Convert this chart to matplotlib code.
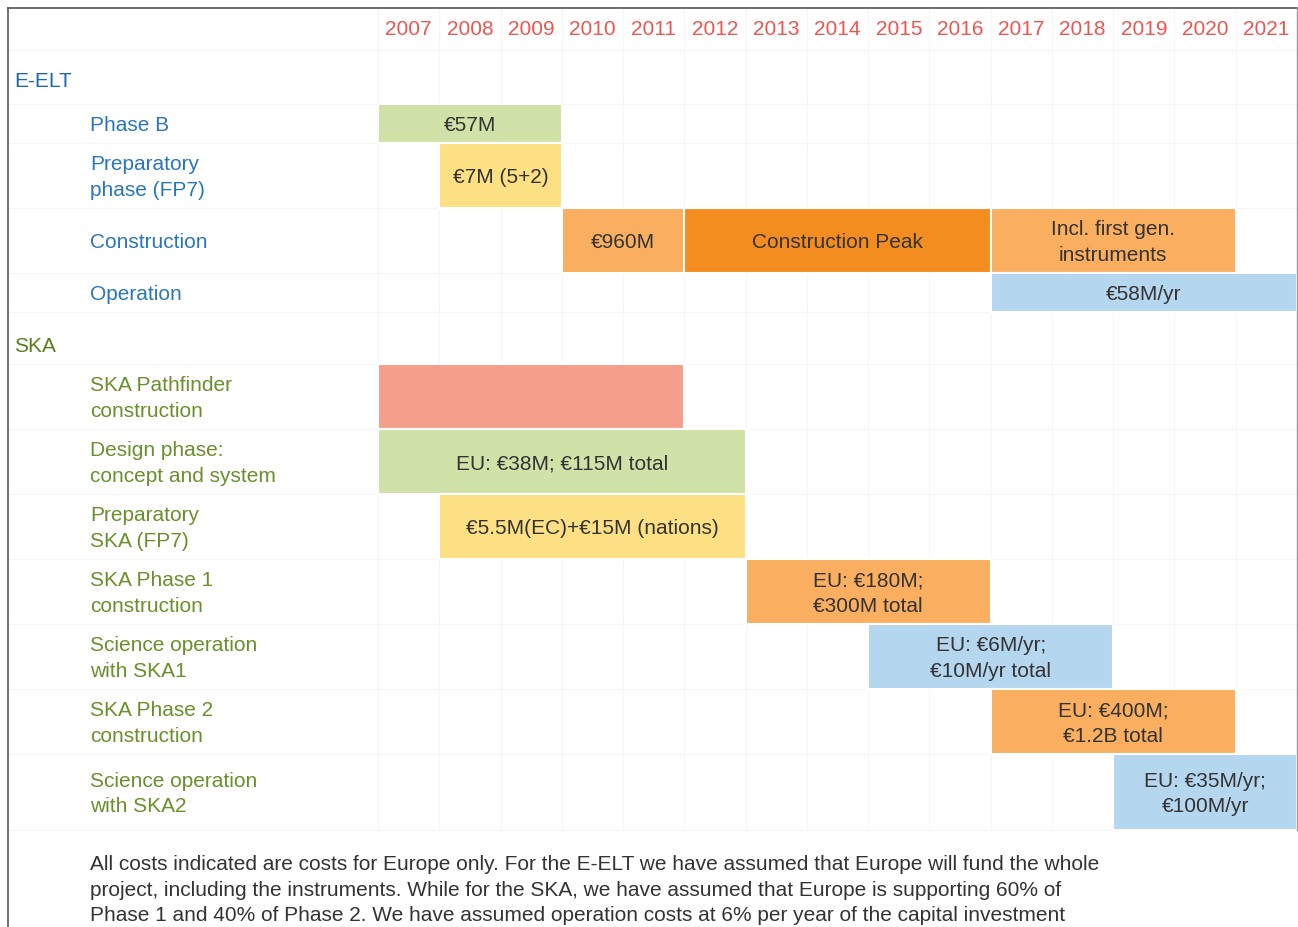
import matplotlib
matplotlib.use('Agg')
import matplotlib.pyplot as plt
from matplotlib.transforms import blended_transform_factory

# ---- data ----
years = list(range(2007, 2022))
group_names = ['E-ELT', 'SKA']
task_labels = ['Phase B', 'Preparatory\nphase (FP7)', 'Construction', 'Operation',
               'SKA Pathfinder\nconstruction', 'Design phase:\nconcept and system',
               'Preparatory\nSKA (FP7)', 'SKA Phase 1\nconstruction',
               'Science operation\nwith SKA1', 'SKA Phase 2\nconstruction',
               'Science operation\nwith SKA2']
task_group = [0, 0, 0, 0, 1, 1, 1, 1, 1, 1, 1]

bar_task = [0, 1, 2, 2, 2, 3, 4, 5, 6, 7, 8, 9, 10]
bar_start = [2007, 2008, 2010, 2012, 2017, 2017, 2007, 2007, 2008, 2013, 2015, 2017, 2019]
bar_end = [2010, 2010, 2012, 2017, 2021, 2022, 2012, 2013, 2013, 2017, 2019, 2021, 2022]
bar_text = ['€57M', '€7M (5+2)', '€960M', 'Construction Peak', 'Incl. first gen.\ninstruments',
            '€58M/yr', '', 'EU: €38M; €115M total', '€5.5M(EC)+€15M (nations)',
            'EU: €180M;\n€300M total', 'EU: €6M/yr;\n€10M/yr total',
            'EU: €400M;\n€1.2B total', 'EU: €35M/yr;\n€100M/yr']
bar_kind = ['design', 'prep', 'build', 'peak', 'build', 'ops', 'pathfinder', 'design',
            'prep', 'build', 'ops', 'build', 'ops']

footnote = ("All costs indicated are costs for Europe only. For the E-ELT we have assumed that Europe will fund the whole\n"
            "project, including the instruments. While for the SKA, we have assumed that Europe is supporting 60% of\n"
            "Phase 1 and 40% of Phase 2. We have assumed operation costs at 6% per year of the capital investment")

# ---- styling / layout ----
kind_color = {'design': '#d0e2a7', 'prep': '#fee084', 'build': '#f9af5f',
              'peak': '#f48d20', 'ops': '#b5d6ef', 'pathfinder': '#f59e8b'}
group_color = ['#1c68b0', '#5b7f1f']
task_color = ['#2a76bb', '#6a8f2b']
year_color = '#ec5650'
text_dark = '#333333'

W, H = 1298, 927
row_edges = [(104, 143), (143, 208), (208, 273), (273, 312), (364, 429), (429, 494),
             (494, 559), (559, 624), (624, 689), (689, 754), (754, 830)]
group_y = [81, 346]
dy = 2  # nudge text down a little so it sits optically centred

plt.rcParams['font.family'] = ['Liberation Sans', 'DejaVu Sans']

fig = plt.figure(figsize=(W / 100, H / 100), dpi=100)
ax = fig.add_axes([0, 0, 1, 1])
per = (1297 - 378) / 15.0
x0 = 2007 - 378 / per
ax.set_xlim(x0, x0 + W / per)
ax.set_ylim(H, 0)
ax.axis('off')
lab = blended_transform_factory(fig.transFigure, ax.transData)

# very faint grid
grid_c = '#f6f6f6'
for y in [50, 104] + [b for _, b in row_edges] + [364]:
    ax.plot([x0 + 8 / per, x0 + 1297 / per], [y, y], color=grid_c, lw=0.8, zorder=0)
for yr in years + [2022]:
    ax.plot([yr, yr], [8, 830], color=grid_c, lw=0.8, zorder=0)

# frame
ax.plot([x0 + 8 / per, x0 + 8 / per], [8, H], color='#555555', lw=1.2, zorder=5)
ax.plot([x0 + 8 / per, x0 + 1297 / per], [8, 8], color='#555555', lw=1.2, zorder=5)
ax.plot([x0 + 1297 / per, x0 + 1297 / per], [8, 830], color='#999999', lw=1.0, zorder=5)

# year header
for yr in years:
    ax.text(yr + 0.5, 29, str(yr), ha='center', va='center', fontsize=15, color=year_color)

# group and task labels
for g, name in enumerate(group_names):
    ax.text(14 / W, group_y[g], name, transform=lab, ha='left', va='center',
            fontsize=15, color=group_color[g])
for i, label in enumerate(task_labels):
    top, bot = row_edges[i]
    ax.text(90 / W, (top + bot) / 2 + dy, label, transform=lab, ha='left', va='center',
            fontsize=15, color=task_color[task_group[i]], linespacing=1.42)

# bars
for t, s, e, txt, k in zip(bar_task, bar_start, bar_end, bar_text, bar_kind):
    top, bot = row_edges[t]
    ax.barh((top + bot) / 2, e - s, left=s, height=bot - top, color=kind_color[k],
            edgecolor='white', linewidth=1.5, zorder=2)
    if txt:
        ax.text((s + e) / 2, (top + bot) / 2 + dy, txt, ha='center', va='center',
                fontsize=15, color=text_dark, linespacing=1.42, zorder=3)

# footnote
ax.text(90 / W, 890, footnote, transform=lab, ha='left', va='center', fontsize=15,
        color=text_dark, linespacing=1.45)

fig.savefig('out.png', dpi=100)
plt.close(fig)
